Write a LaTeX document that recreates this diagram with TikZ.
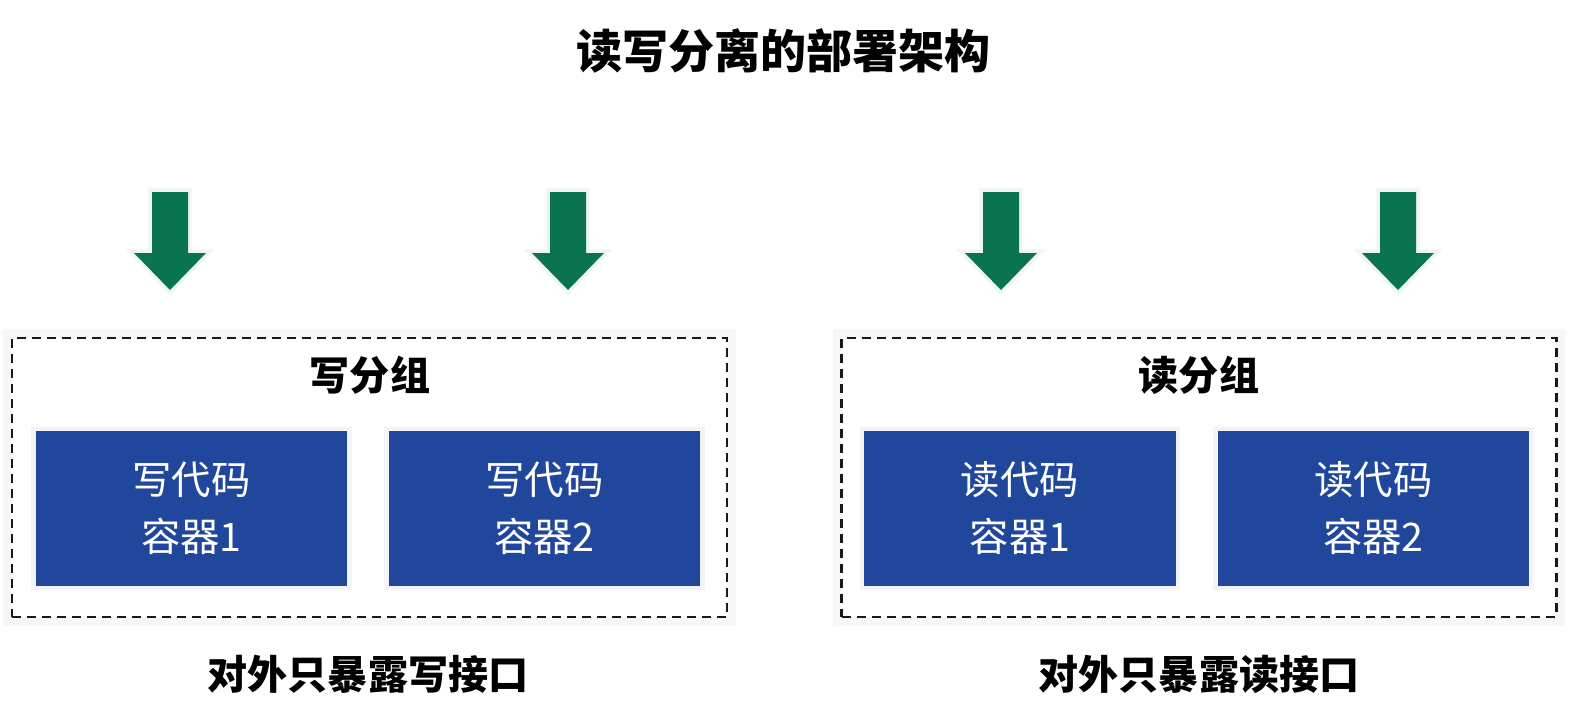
\documentclass[tikz,border=0pt]{standalone}
\usepackage{fontspec}
\setmainfont{Noto Sans CJK SC}
\usetikzlibrary{positioning}

\definecolor{boxblue}{RGB}{33,71,157}
\definecolor{arrowgreen}{RGB}{10,115,80}

\begin{document}
\begin{tikzpicture}[
    x=0.02cm, y=-0.02cm,
    container/.style={
        rectangle, fill=boxblue,
        text=white,
        font=\fontsize{22.4}{32.4}\selectfont,
        align=center, inner sep=0pt,
        minimum width=6.24cm,
        minimum height=3.1cm,
        preaction={draw=boxblue!6, line width=5pt},
    },
    group/.style={
        rectangle, draw=black!90, line width=1.5pt,
        dash pattern=on 0.18cm off 0.12cm,
        fill=white, inner sep=0pt,
        minimum width=14.3cm,
        minimum height=5.58cm,
        preaction={draw=black!3, line width=10pt, solid},
    },
    heading/.style={
        font=\bfseries\fontsize{22.8}{28}\selectfont,
        inner sep=0pt,
    },
    inarrow/.style={
        fill=arrowgreen,
        preaction={draw=arrowgreen!7, line width=4pt},
    },
]
\useasboundingbox (0,0) rectangle (1590,724);

% title
\node[heading, font=\bfseries\fontsize{26.2}{30}\selectfont] (title) at (783.5,51) {读写分离的部署架构};

% incoming arrows
\foreach \ax in {170,568,1001,1398}
    \fill[inarrow] (\ax-18,192) -- (\ax+18,192) -- (\ax+18,253) -- (\ax+36,253)
        -- (\ax,290) -- (\ax-36,253) -- (\ax-18,253) -- cycle;

% two groups
\node[group] (wgroup) at (369.5,477.5) {};
\node[group] (rgroup) at (1199,477.5) {};
\node[heading] (wtitle) at (370,375) {写分组};
\node[heading] (rtitle) at (1199,375) {读分组};

% containers
\node[container] (wc1) at (191.5,508.5) {写代码\\容器1};
\node[container] (wc2) at (544.5,508.5) {写代码\\容器2};
\node[container] (rc1) at (1020,508.5) {读代码\\容器1};
\node[container] (rc2) at (1373.5,508.5) {读代码\\容器2};

% notes
\node[heading] (wnote) at (368,674) {对外只暴露写接口};
\node[heading] (rnote) at (1199,674) {对外只暴露读接口};

\end{tikzpicture}
\end{document}
